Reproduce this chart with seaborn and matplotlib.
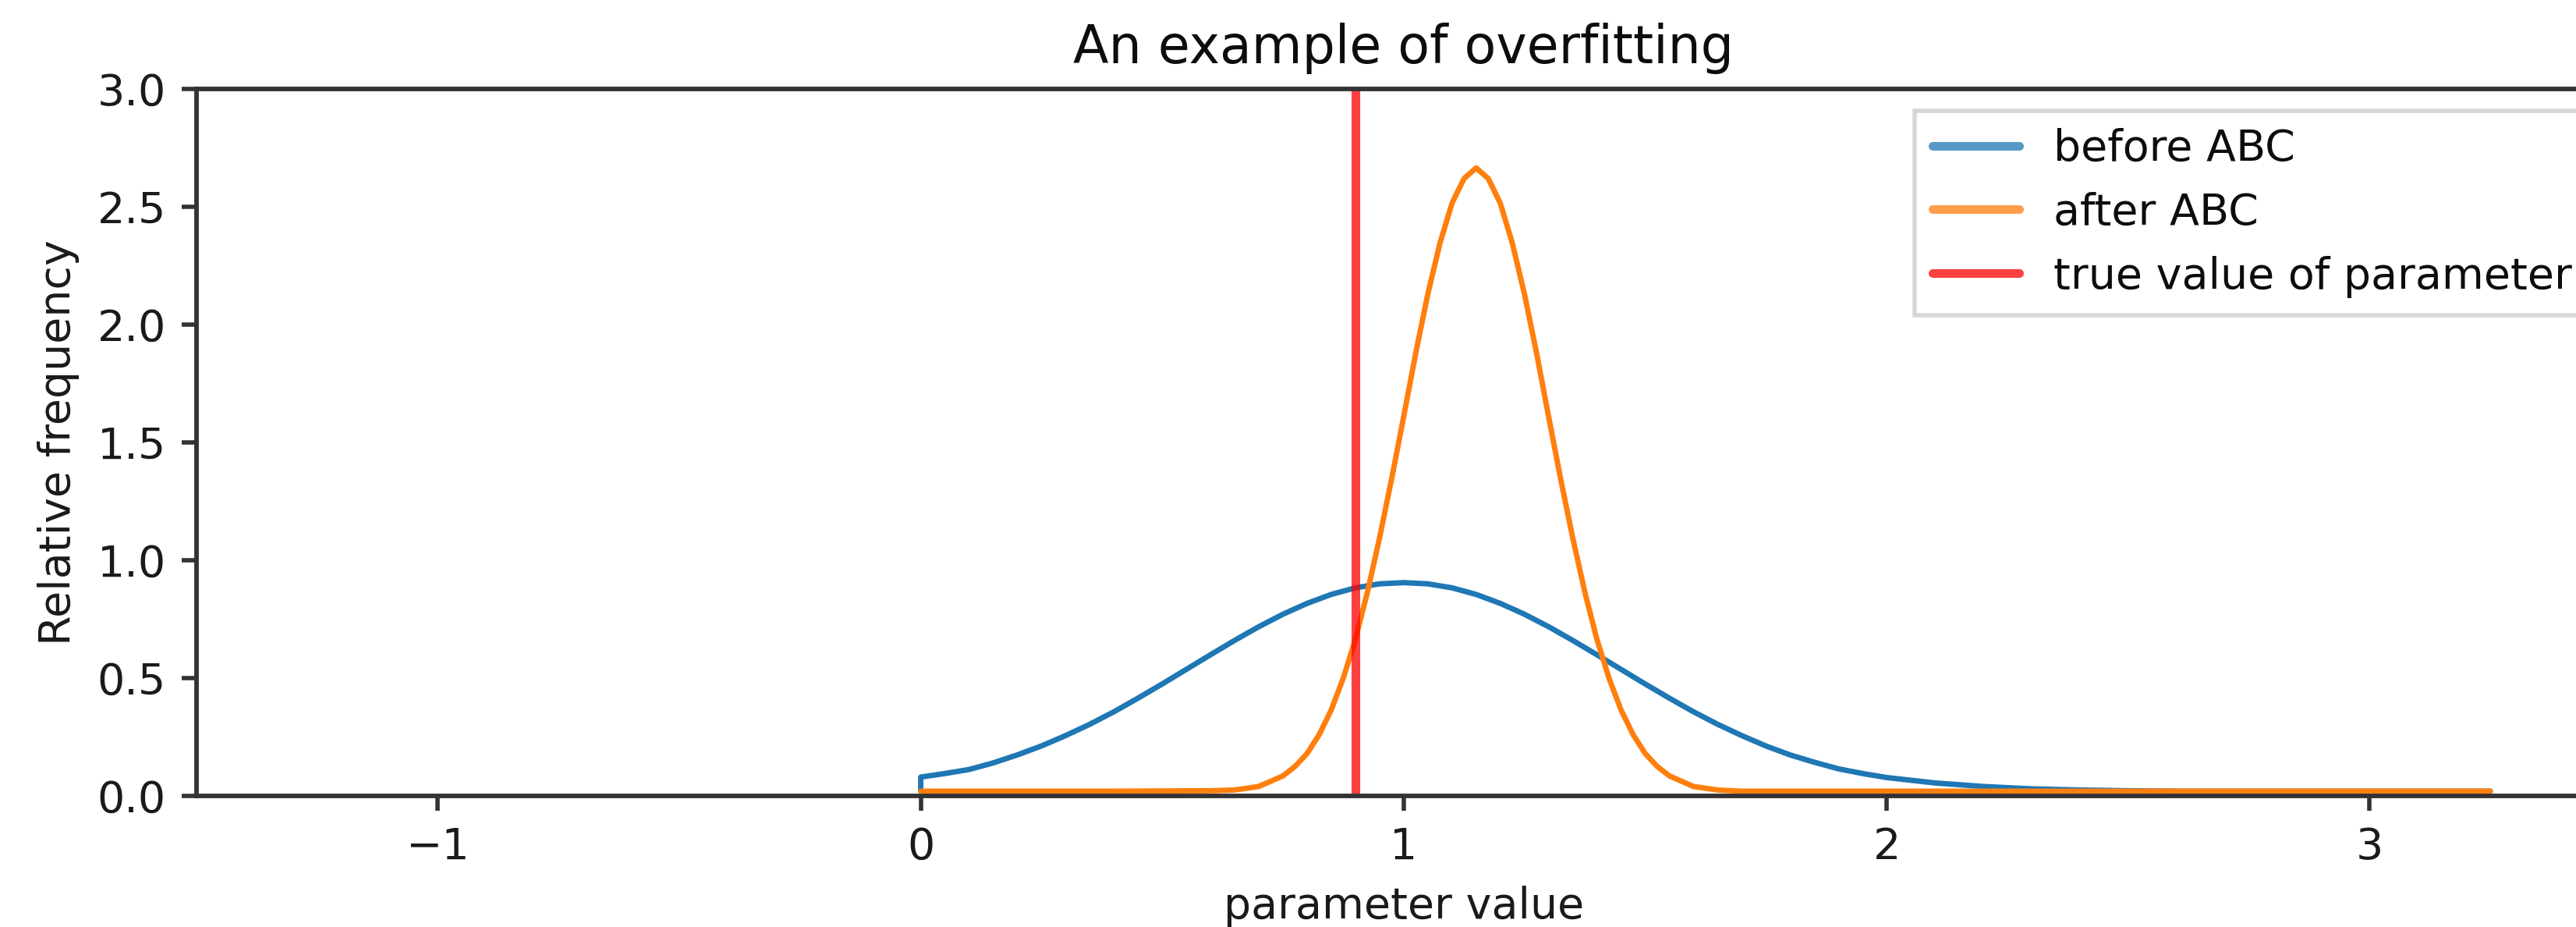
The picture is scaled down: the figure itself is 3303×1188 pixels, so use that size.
import numpy as np
import pandas as pd
import matplotlib
matplotlib.use("Agg")
import matplotlib.pyplot as plt
from matplotlib.lines import Line2D
import seaborn as sns

# ---- data ----
blue_x = [0.0, 0.0, 0.05, 0.1, 0.15, 0.2, 0.25, 0.3, 0.35, 0.4, 0.45, 0.5, 0.55, 0.6, 0.65,
          0.7, 0.75, 0.8, 0.85, 0.9, 0.95, 1.0, 1.05, 1.1, 1.15, 1.2, 1.25, 1.3, 1.35, 1.4,
          1.45, 1.5, 1.55, 1.6, 1.65, 1.7, 1.75, 1.8, 1.85, 1.9, 1.95, 2.0, 2.1, 2.2, 2.3,
          2.4, 2.5, 2.6, 2.8, 3.0, 3.25]
blue_y = [0.02, 0.08, 0.095, 0.112, 0.14, 0.174, 0.212, 0.256, 0.304, 0.357, 0.415, 0.475,
          0.537, 0.599, 0.66, 0.718, 0.771, 0.817, 0.855, 0.883, 0.90, 0.905, 0.90, 0.883,
          0.855, 0.817, 0.771, 0.718, 0.66, 0.599, 0.537, 0.475, 0.415, 0.357, 0.304, 0.256,
          0.212, 0.174, 0.143, 0.115, 0.095, 0.078, 0.055, 0.04, 0.03, 0.025, 0.022, 0.02,
          0.02, 0.02, 0.02]

orange_x = [0.0, 0.2, 0.4, 0.6, 0.65, 0.7, 0.75, 0.775, 0.8, 0.825, 0.85, 0.875, 0.9, 0.925,
            0.95, 0.975, 1.0, 1.025, 1.05, 1.075, 1.1, 1.125, 1.15, 1.175, 1.2, 1.225, 1.25,
            1.275, 1.3, 1.325, 1.35, 1.375, 1.4, 1.425, 1.45, 1.475, 1.5, 1.525, 1.55, 1.6,
            1.65, 1.7, 2.0, 2.5, 3.0, 3.25]
orange_y = [0.02, 0.02, 0.02, 0.022, 0.025, 0.04, 0.085, 0.125, 0.18, 0.26, 0.365, 0.50,
            0.665, 0.865, 1.095, 1.345, 1.61, 1.88, 2.13, 2.345, 2.515, 2.62, 2.665, 2.62,
            2.515, 2.345, 2.13, 1.88, 1.61, 1.345, 1.095, 0.865, 0.665, 0.50, 0.365, 0.26,
            0.18, 0.125, 0.085, 0.04, 0.025, 0.02, 0.02, 0.02, 0.02, 0.02]

true_value = 0.9
legend_labels = ["before ABC", "after ABC", "true value of parameter"]
x_ticks = [-1, 0, 1, 2, 3]
y_ticks = [0.0, 0.5, 1.0, 1.5, 2.0, 2.5, 3.0]

# ---- style ----
sns.set_theme(style="ticks", rc={
    "axes.edgecolor": "0.2",
    "axes.linewidth": 1.05,
    "xtick.color": "0.2",
    "ytick.color": "0.2",
    "xtick.labelcolor": "0.1",
    "ytick.labelcolor": "0.1",
    "xtick.major.size": 3.5,
    "ytick.major.size": 3.5,
    "xtick.major.width": 1.0,
    "ytick.major.width": 1.0,
    "axes.labelcolor": "0.1",
    "text.color": "0.05",
})
plt.rcParams["font.family"] = ["DejaVu Sans"]

W, H, DPI = 3303, 1188, 400
fig = plt.figure(figsize=(W / DPI, H / DPI), dpi=DPI)
left, right, top, bottom = 251.7, 3348, 114, 1020
ax = fig.add_axes([left / W, 1 - bottom / H, (right - left) / W, (bottom - top) / H])

df_b = pd.DataFrame({"x": blue_x, "y": blue_y})
df_o = pd.DataFrame({"x": orange_x, "y": orange_y})
sns.lineplot(data=df_b, x="x", y="y", color="#1f77b4", lw=1.25, sort=False,
             estimator=None, ax=ax)
sns.lineplot(data=df_o, x="x", y="y", color="#ff7f0e", lw=1.25, sort=False,
             estimator=None, ax=ax)
ax.axvline(true_value, color="red", alpha=0.75, lw=2.0)

ax.set_xlim(-1.5, 3.5)
ax.set_ylim(0, 3.0)
ax.set_xticks(x_ticks)
ax.set_xticklabels(["\u22121", "0", "1", "2", "3"])
ax.set_yticks(y_ticks)
ax.set_yticklabels([f"{v:.1f}" for v in y_ticks])
ax.tick_params(labelsize=10)

ax.set_title("An example of overfitting", fontsize=12)
ax.set_xlabel("parameter value", fontsize=10)
ax.set_ylabel("Relative frequency", fontsize=10)

handles = [Line2D([], [], color="#1f77b4", lw=2, alpha=0.75),
           Line2D([], [], color="#ff7f0e", lw=2, alpha=0.75),
           Line2D([], [], color="red", lw=2, alpha=0.75)]
leg = ax.legend(handles, legend_labels, loc="upper right", fontsize=10,
                frameon=True, fancybox=False, edgecolor="0.8", framealpha=0.8)
leg.get_frame().set_linewidth(1.0)

fig.savefig("out.png", dpi=DPI)
